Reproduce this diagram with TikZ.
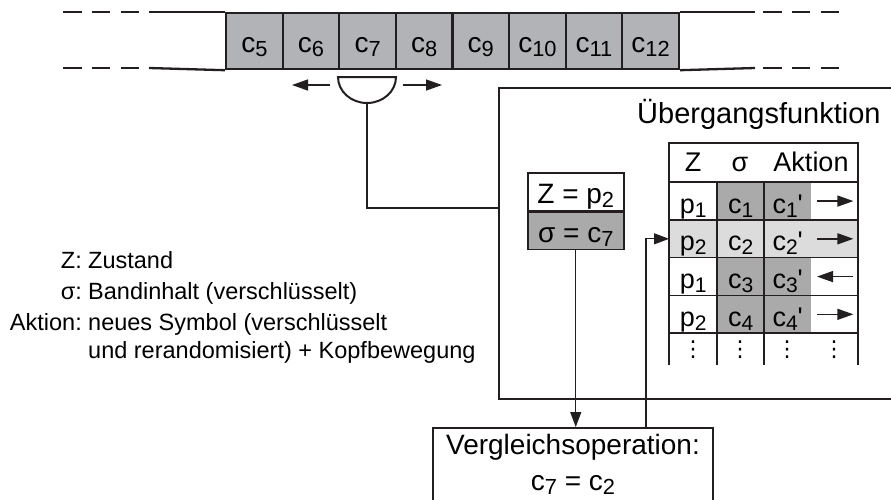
\documentclass[tikz,border=0pt]{standalone}
\usepackage{fontspec}
\usepackage{graphicx}
\setmainfont{Liberation Sans}
\newfontfamily\dvfont{DejaVu Sans}
\usetikzlibrary{arrows.meta}
\definecolor{ink}{RGB}{35,31,32}
\definecolor{tapegray}{RGB}{178,179,182}
\definecolor{darkcell}{RGB}{170,170,170}
\definecolor{lightcell}{RGB}{220,220,220}
\newcommand{\sbs}[1]{\raisebox{-0.15em}{\scalebox{0.78}{#1}}}
\newcommand{\fsz}[1]{\fontsize{#1}{#1}\selectfont}
\newcommand{\qs}{\textquotesingle}
\tikzset{
  tapeline/.style={draw=ink, line width=2.3pt},
  tapecell/.style={draw=ink, line width=2.2pt, fill=tapegray, minimum width=56.6pt,
    minimum height=56pt, inner sep=0pt, anchor=north west, font=\fsz{28},
    text height=22pt, text depth=0pt},
  headshape/.style={draw=ink, line width=2pt},
  conn/.style={draw=ink, line width=1.2pt},
  tip/.style={-{Triangle[length=15pt,width=11pt]}},
  frame/.style={draw=ink, line width=1.5pt, inner sep=0pt, anchor=north west},
  title/.style={font=\fsz{29}, inner sep=0pt},
  statecell/.style={draw=ink, line width=1.5pt, minimum width=96pt, minimum height=37.5pt,
    inner sep=0pt, font=\fsz{28}, text height=23pt, text depth=0pt},
  hdrcell/.style={fill=white, minimum width=189pt, minimum height=39pt, inner sep=0pt, anchor=north west},
  cell/.style={minimum height=37.75pt, inner sep=0pt, anchor=north west, font=\fsz{27},
    text height=24pt, text depth=0pt},
  wp/.style={cell, minimum width=48pt},
  wc/.style={cell, minimum width=47pt},
  grid/.style={draw=ink, line width=1.5pt},
  tblarrow/.style={draw=ink, line width=1.4pt, -{Triangle[length=16pt,width=11pt]}},
  legkey/.style={font=\fsz{23.5}, inner sep=0pt, anchor=base east},
  legtxt/.style={font=\fsz{23.5}, inner sep=0pt, anchor=base west},
  dots/.style={font=\dvfont\fsz{22}, inner sep=0pt},
}
\begin{document}
\begin{tikzpicture}[x=1pt,y=-1pt]
\useasboundingbox (0,0) rectangle (891,499);

% ---------------- tape ----------------
\foreach \i [count=\k from 0] in {5,...,12}
  \node[tapecell] (c\i) at ({225+56.6*\k},12) {c\sbs{\i}};
\coordinate (tl1) at (149,12);
\coordinate (tl2) at (149,68);
\coordinate (tr1) at (755,12);
\coordinate (tr2) at (755,68);
\draw[tapeline] (tl1) -- (c5.north west);
\draw[tapeline] (tl2) -- (c5.south west);
\draw[tapeline] (c12.north east) -- (tr1);
\draw[tapeline] (c12.south east) -- (tr2);
\draw[tapeline, dash pattern=on 18.5pt off 10.3pt] (63,12) -- (138.5,12);
\draw[tapeline, dash pattern=on 18.5pt off 10.3pt] (63,68) -- (138.5,68);
\draw[tapeline, dash pattern=on 18.5pt off 10.3pt] (763,12) -- (838.5,12);
\draw[tapeline, dash pattern=on 18.5pt off 10.3pt] (763,68) -- (838.5,68);

% ---------------- head ----------------
\draw[headshape] (338,77) -- (396,77) arc[start angle=0,end angle=-180,x radius=29pt,y radius=26pt] -- cycle;
\coordinate (head) at (367,103);
\coordinate (hL1) at (330,85);
\coordinate (hL2) at (292,85);
\coordinate (hR1) at (403,85);
\coordinate (hR2) at (442,85);
\draw[conn, line width=1.4pt, -{Triangle[length=16pt,width=11pt]}] (hL1) -- (hL2);
\draw[conn, line width=1.4pt, -{Triangle[length=16pt,width=11pt]}] (hR1) -- (hR2);

% ---------------- transition frame ----------------
\node[frame, minimum width=396pt, minimum height=311pt] (frame) at (498,87) {};
\node[title, anchor=base west] (ttl) at (637,123) {Übergangsfunktion};
\coordinate (fin) at (498,208);
\draw[conn] (head) |- (fin);

% ---------------- state box ----------------
\node[statecell, fill=white, anchor=north west] (zs) at (527,172) {Z = p\sbs{2}};
\node[statecell, fill=darkcell, anchor=north] (sig) at (zs.south) {σ = c\sbs{7}};

% ---------------- table ----------------
\node[hdrcell] (hdr) at (669,143) {};
\node[font=\fsz{27}, inner sep=0pt, anchor=base] (hz) at (693,171) {Z};
\node[font=\fsz{27}, inner sep=0pt, anchor=base] (hs) at (740,171) {σ};
\node[font=\fsz{27}, inner sep=0pt, anchor=base] (ha) at (811,171) {Aktion};

% row 1
\node[wp, fill=white]    (p1) at (669,182) {p\sbs{1}};
\node[wc, fill=darkcell] (s1) at (717,182) {c\sbs{1}};
\node[wc, fill=darkcell] (n1) at (764,182) {c\sbs{1}\qs};
\node[wc, fill=white]    (a1) at (811,182) {};
% row 2
\node[wp, fill=lightcell] (p2) at (669,219.75) {p\sbs{2}};
\node[wc, fill=lightcell] (s2) at (717,219.75) {c\sbs{2}};
\node[wc, fill=lightcell] (n2) at (764,219.75) {c\sbs{2}\qs};
\node[wc, fill=lightcell] (a2) at (811,219.75) {};
% row 3
\node[wp, fill=white]    (p3) at (669,257.5) {p\sbs{1}};
\node[wc, fill=darkcell] (s3) at (717,257.5) {c\sbs{3}};
\node[wc, fill=darkcell] (n3) at (764,257.5) {c\sbs{3}\qs};
\node[wc, fill=white]    (a3) at (811,257.5) {};
% row 4
\node[wp, fill=white]    (p4) at (669,295.25) {p\sbs{2}};
\node[wc, fill=darkcell] (s4) at (717,295.25) {c\sbs{4}};
\node[wc, fill=darkcell] (n4) at (764,295.25) {c\sbs{4}\qs};
\node[wc, fill=white]    (a4) at (811,295.25) {};

\draw[tblarrow] ([xshift=6pt]a1.west) -- ([xshift=-5pt]a1.east);
\draw[tblarrow] ([xshift=6pt]a2.west) -- ([xshift=-5pt]a2.east);
\draw[tblarrow] ([xshift=-5pt]a3.east) -- ([xshift=6pt]a3.west);
\draw[tblarrow] ([xshift=6pt]a4.west) -- ([xshift=-5pt]a4.east);

% dots
\node[dots] (d1) at (693,350) {⋮};
\node[dots] (d2) at (740,350) {⋮};
\node[dots] (d3) at (787,350) {⋮};
\node[dots] (d4) at (834,350) {⋮};

% grid
\draw[grid] (669,365) -- (669,143) -- (858,143) -- (858,365);
\foreach \yy in {182,219.75,257.5,295.25,333}
  \draw[grid] (669,\yy) -- (858,\yy);
\draw[grid] (717,182) -- (717,365);
\draw[grid] (764,182) -- (764,365);

% ---------------- comparison box ----------------
\node[draw=ink, line width=1.5pt, anchor=north, minimum width=280pt, minimum height=80pt,
      inner xsep=4pt, inner ysep=6.5pt, align=center, font=\fontsize{28}{36}\selectfont,
      text depth=20pt]
  (vgl) at (573,427) {Vergleichsoperation:\\c\sbs{7} = c\sbs{2}};
\draw[conn, tip] (sig.south) -- (sig.south |- vgl.north);
\coordinate (vfoot) at (646,427);
\draw[conn, tip] (vfoot) |- (p2.west);

% ---------------- legend ----------------
\node[legkey] (k1) at (82,268) {Z:};
\node[legkey] (k2) at (82,299) {σ:};
\node[legkey] (k3) at (82,330) {Aktion:};
\node[legtxt] (t1) at (88,268) {Zustand};
\node[legtxt] (t2) at (88,299) {Bandinhalt (verschlüsselt)};
\node[legtxt] (t3) at (88,330) {neues Symbol (verschlüsselt};
\node[legtxt] (t4) at (88,358) {und rerandomisiert) + Kopfbewegung};
\end{tikzpicture}
\end{document}
